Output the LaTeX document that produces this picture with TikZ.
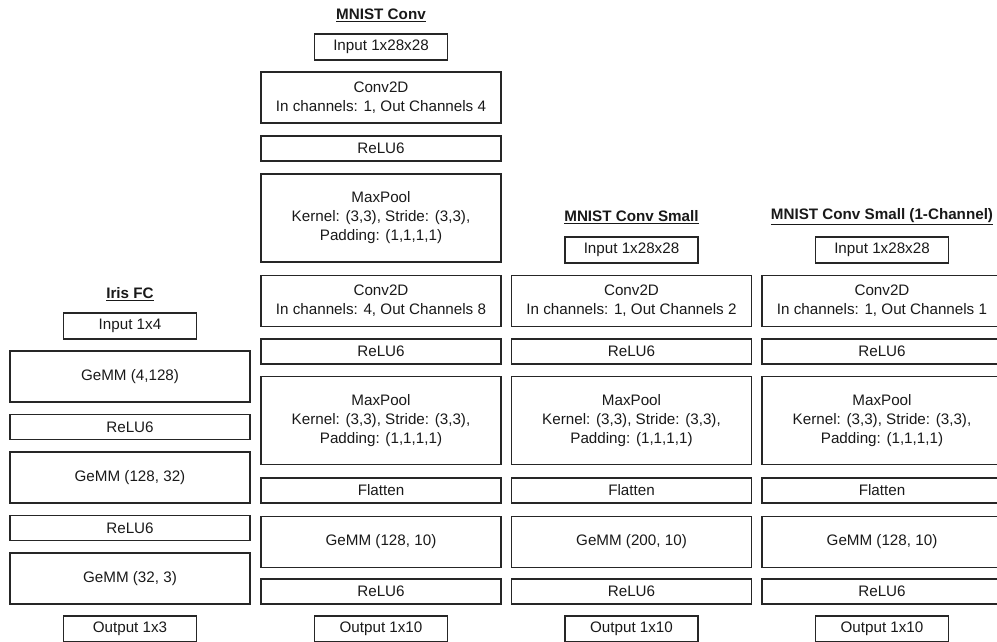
\documentclass[tikz,border=0pt]{standalone}
\usepackage{fontspec}
\setmainfont{Liberation Sans}
\begin{document}
\begin{tikzpicture}[x=1pt,y=-1pt,
  every node/.style={font=\fontsize{15.2}{19}\selectfont, text=black!90},
  blk/.style={draw=black!85, line width=1.3pt, align=center, inner sep=0pt, minimum width=240pt},
  one/.style={blk, minimum height=25pt},
  two/.style={blk, minimum height=51pt},
  three/.style={blk, minimum height=88pt},
  io/.style={draw=black!85, line width=1.3pt, align=center, inner sep=0pt, minimum width=133pt, minimum height=26pt},
  ttl/.style={font=\fontsize{15.2}{19}\selectfont\bfseries}
]
\useasboundingbox (0,0) rectangle (997,641);
\clip (0,0) rectangle (997,641);

% Iris FC
\node[ttl] (t1) at (130,294) {\underline{Iris FC}};
\node[io] (a0) at (130,326) {Input 1x4};
\node[two] (a1) at (130,376.5) {GeMM (4,128)};
\node[one] (a2) at (130,427) {ReLU6};
\node[two] (a3) at (130,477.5) {GeMM (128, 32)};
\node[one] (a4) at (130,528) {ReLU6};
\node[two] (a5) at (130,578.5) {GeMM (32, 3)};
\node[io] (a6) at (130,629) {Output 1x3};

% MNIST Conv
\node[ttl] (t2) at (381,15) {\underline{MNIST Conv}};
\node[io] (b0) at (381,47) {Input 1x28x28};
\node[two] (b1) at (381,97.5) {Conv2D\\In channels: 1, Out Channels 4};
\node[one] (b2) at (381,148.5) {ReLU6};
\node[three] (b3) at (381,218) {MaxPool\\Kernel: (3,3), Stride: (3,3),\\Padding: (1,1,1,1)};
\node[two] (b4) at (381,301) {Conv2D\\In channels: 4, Out Channels 8};
\node[one] (b5) at (381,351.5) {ReLU6};
\node[three] (b6) at (381,420.5) {MaxPool\\Kernel: (3,3), Stride: (3,3),\\Padding: (1,1,1,1)};
\node[one] (b7) at (381,490.5) {Flatten};
\node[two] (b8) at (381,542) {GeMM (128, 10)};
\node[one] (b9) at (381,591.5) {ReLU6};
\node[io] (b10) at (381,629) {Output 1x10};

% MNIST Conv Small
\node[ttl] (t3) at (631.5,217) {\underline{MNIST Conv Small}};
\node[io] (c0) at (631.5,250) {Input 1x28x28};
\node[two] (c1) at (631.5,301) {Conv2D\\In channels: 1, Out Channels 2};
\node[one] (c2) at (631.5,351.5) {ReLU6};
\node[three] (c3) at (631.5,420.5) {MaxPool\\Kernel: (3,3), Stride: (3,3),\\Padding: (1,1,1,1)};
\node[one] (c4) at (631.5,490.5) {Flatten};
\node[two] (c5) at (631.5,542) {GeMM (200, 10)};
\node[one] (c6) at (631.5,591.5) {ReLU6};
\node[io] (c7) at (631.5,629) {Output 1x10};

% MNIST Conv Small (1-Channel)
\node[ttl] (t4) at (882,217) {\underline{MNIST Conv Small (1-Channel)}};
\node[io] (d0) at (882,250) {Input 1x28x28};
\node[two] (d1) at (882,301) {Conv2D\\In channels: 1, Out Channels 1};
\node[one] (d2) at (882,351.5) {ReLU6};
\node[three] (d3) at (882,420.5) {MaxPool\\Kernel: (3,3), Stride: (3,3),\\Padding: (1,1,1,1)};
\node[one] (d4) at (882,490.5) {Flatten};
\node[two] (d5) at (882,542) {GeMM (128, 10)};
\node[one] (d6) at (882,591.5) {ReLU6};
\node[io] (d7) at (882,629) {Output 1x10};
\end{tikzpicture}
\end{document}
